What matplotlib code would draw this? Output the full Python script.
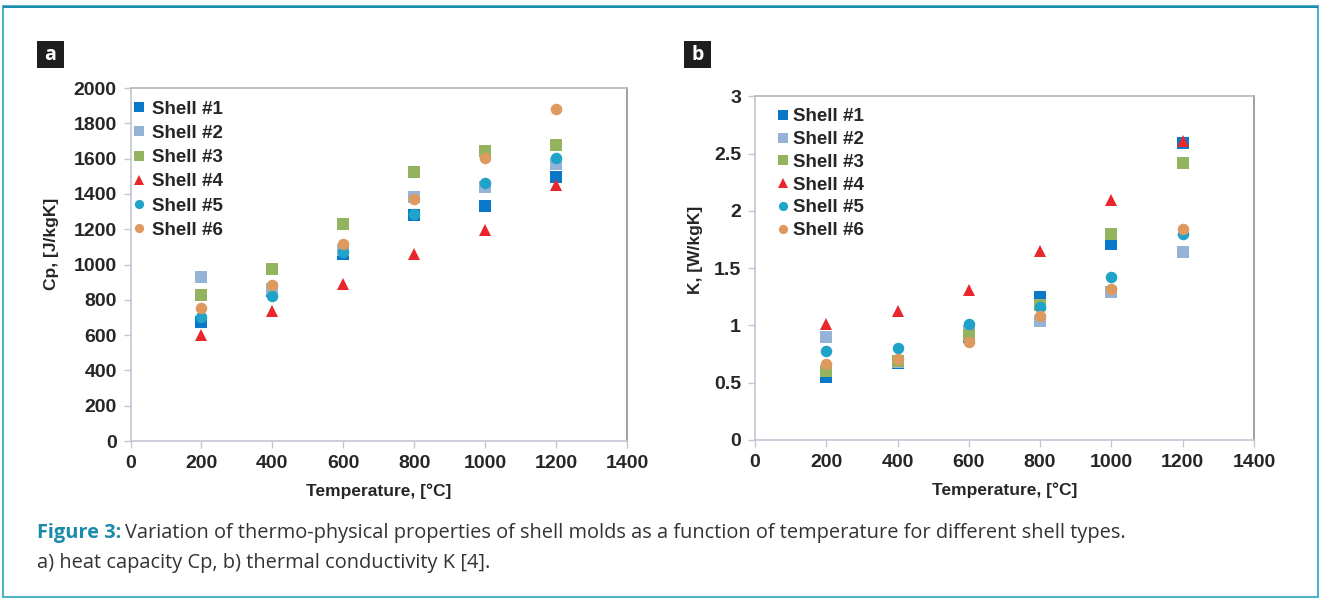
import matplotlib
matplotlib.use("Agg")
import matplotlib.pyplot as plt
from matplotlib.patches import Rectangle

plt.rcParams['font.family'] = ['Liberation Sans', 'DejaVu Sans']

temps = [200, 400, 600, 800, 1000, 1200]
shells = ["Shell #1", "Shell #2", "Shell #3", "Shell #4", "Shell #5", "Shell #6"]

cp_shell1 = [674, 848, 1057, 1282, 1330, 1496]
cp_shell2 = [928, 860, 1080, 1385, 1440, 1568]
cp_shell3 = [830, 975, 1227, 1525, 1644, 1676]
cp_shell4 = [602, 739, 890, 1057, 1197, 1449]
cp_shell5 = [705, 824, 1070, 1288, 1462, 1604]
cp_shell6 = [754, 886, 1117, 1373, 1606, 1879]

k_shell1 = [0.55, 0.675, 0.90, 1.25, 1.71, 2.59]
k_shell2 = [0.90, 0.68, 0.95, 1.04, 1.29, 1.64]
k_shell3 = [0.60, 0.69, 0.92, 1.18, 1.80, 2.42]
k_shell4 = [1.01, 1.13, 1.31, 1.65, 2.10, 2.61]
k_shell5 = [0.78, 0.80, 1.01, 1.16, 1.42, 1.80]
k_shell6 = [0.66, 0.71, 0.86, 1.08, 1.32, 1.84]

cp_data = [cp_shell1, cp_shell2, cp_shell3, cp_shell4, cp_shell5, cp_shell6]
k_data = [k_shell1, k_shell2, k_shell3, k_shell4, k_shell5, k_shell6]

colors = ["#0a78c8", "#95b3d7", "#93b35e", "#e8262b", "#1fa3c9", "#de9a5e"]
markers = ["s", "s", "s", "^", "o", "o"]
msizes = [8.3, 8.3, 8.3, 8.8, 8.3, 8.3]

TEXT = "#262626"
TEAL = "#1a8caa"

fig = plt.figure(figsize=(13.21, 6.0), dpi=100)

# outer frame
fig.patches.append(Rectangle((3/1321, 3/600), 1315/1321, 591/600, transform=fig.transFigure,
                             fill=False, edgecolor="#4fb3c9", linewidth=1.5, zorder=0))
fig.patches.append(Rectangle((3/1321, 592/600), 1315/1321, 2.5/600, transform=fig.transFigure,
                             facecolor=TEAL, edgecolor='none', zorder=1))

def style_axes(ax):
    for s in ["left", "bottom"]:
        ax.spines[s].set_color("#c3c7d3")
        ax.spines[s].set_linewidth(1.2)
    ax.spines["top"].set_color("#b4b6b9")
    ax.spines["right"].set_color("#8e9094")
    ax.spines["top"].set_linewidth(1.2)
    ax.spines["right"].set_linewidth(1.2)
    ax.tick_params(axis='both', direction='out', length=5, width=1, color="#c3c7d3",
                   labelsize=14, labelcolor=TEXT, pad=5)
    for lab in ax.get_xticklabels() + ax.get_yticklabels():
        lab.set_fontweight('bold')

# panel a
axa = fig.add_axes([0.0988, 0.265, 0.3758, 0.5883])
for i in range(6):
    axa.plot(temps, cp_data[i], linestyle='none', marker=markers[i], markersize=msizes[i],
             color=colors[i], markeredgewidth=0, label=shells[i])
axa.set_xlim(0, 1400)
axa.set_ylim(0, 2000)
axa.set_xticks(range(0, 1401, 200))
axa.set_yticks(range(0, 2001, 200))
style_axes(axa)
axa.set_xlabel("Temperature, [°C]", fontsize=12.5, fontweight='bold', color=TEXT, labelpad=8)
axa.set_ylabel("Cp, [J/kgK]", fontsize=12.5, fontweight='bold', color=TEXT)
axa.yaxis.set_label_coords(-0.145, 0.558)
axa.legend(loc='upper left', bbox_to_anchor=(-0.020, 1.002), frameon=False,
           prop={'size': 13.5, 'weight': 'bold'}, handlelength=0.6, handletextpad=0.35,
           labelspacing=0.38, markerscale=0.8, borderaxespad=0.3, labelcolor=TEXT)

# panel b
axb = fig.add_axes([0.5715, 0.2667, 0.3777, 0.5725])
for i in range(6):
    axb.plot(temps, k_data[i], linestyle='none', marker=markers[i], markersize=msizes[i],
             color=colors[i], markeredgewidth=0, label=shells[i])
axb.set_xlim(0, 1400)
axb.set_ylim(0, 3)
axb.set_xticks(range(0, 1401, 200))
axb.set_yticks([0, 0.5, 1, 1.5, 2, 2.5, 3])
axb.set_yticklabels(["0", "0.5", "1", "1.5", "2", "2.5", "3"])
style_axes(axb)
axb.set_xlabel("Temperature, [°C]", fontsize=12.5, fontweight='bold', color=TEXT, labelpad=8)
axb.set_ylabel("K, [W/kgK]", fontsize=12.5, fontweight='bold', color=TEXT)
axb.yaxis.set_label_coords(-0.105, 0.552)
axb.legend(loc='upper left', bbox_to_anchor=(0.019, 1.004), frameon=False,
           prop={'size': 13.5, 'weight': 'bold'}, handlelength=0.6, handletextpad=0.2,
           labelspacing=0.30, markerscale=0.8, borderaxespad=0.3, labelcolor=TEXT)

# panel labels
for x0, lab in [(37, "a"), (684, "b")]:
    fig.patches.append(Rectangle((x0/1321, 1 - 67.5/600), 27/1321, 26.5/600,
                                 transform=fig.transFigure, facecolor="#1e1e1e",
                                 edgecolor='none'))
    fig.text((x0 + 13.5)/1321, 1 - 54.5/600, lab, color='white', fontsize=14,
             fontweight='bold', ha='center', va='center', family=['Open Sans', 'DejaVu Sans'])

# caption
cap_font = ['Open Sans', 'DejaVu Sans']
t1 = fig.text(37/1321, 1 - 533/600, "Figure 3:", color=TEAL, fontsize=14.4, fontweight='bold',
              ha='left', va='center', family=cap_font)
fig.canvas.draw()
bb = t1.get_window_extent()
fig.text((bb.x1 + 4)/1321, 1 - 533/600,
         "Variation of thermo-physical properties of shell molds as a function of temperature for different shell types.",
         color="#333333", fontsize=14.4, ha='left', va='center', family=cap_font)
fig.text(37/1321, 1 - 563/600, "a) heat capacity Cp, b) thermal conductivity K [4].",
         color="#333333", fontsize=14.4, ha='left', va='center', family=cap_font)

fig.savefig("out.png", dpi=100)
